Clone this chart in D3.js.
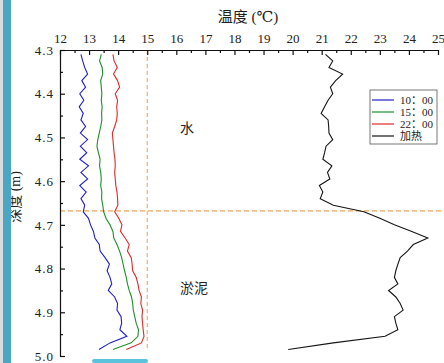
<!DOCTYPE html>
<html>
<head>
  <meta charset="utf-8">
  <style>
    body { margin: 0; background: #fff; }
  </style>
</head>
<body>
<svg id="chart" width="444" height="363"></svg>
<script src="https://d3js.org/d3.v7.min.js"></script>
<script>
// depth (m), shared by every series
var depths = [4.310, 4.325, 4.340, 4.355, 4.370, 4.385, 4.400, 4.415, 4.430, 4.445,
              4.460, 4.475, 4.490, 4.505, 4.520, 4.535, 4.550, 4.565, 4.580, 4.595,
              4.610, 4.625, 4.640, 4.655, 4.670, 4.685, 4.700, 4.715, 4.730, 4.745,
              4.760, 4.775, 4.790, 4.805, 4.820, 4.835, 4.850, 4.865, 4.880, 4.895,
              4.910, 4.925, 4.940, 4.955, 4.970, 4.985];

var t1000 = [12.72, 12.78, 12.85, 12.95, 12.75, 12.88, 12.68, 12.82, 12.66, 12.80,
             12.72, 12.88, 12.70, 12.95, 12.70, 12.92, 12.68, 12.98, 12.72, 12.95,
             12.68, 12.90, 12.72, 12.85, 12.80, 12.98, 13.05, 13.15, 13.20, 13.35,
             13.38, 13.55, 13.70, 13.62, 13.72, 13.78, 13.66, 13.88, 13.98, 13.96,
             14.10, 14.12, 14.06, 14.30, 13.72, 13.34];

var t1500 = [13.42, 13.36, 13.45, 13.47, 13.40, 13.42, 13.44, 13.42, 13.45, 13.43,
             13.44, 13.40, 13.35, 13.30, 13.27, 13.32, 13.38, 13.36, 13.40, 13.42,
             13.40, 13.44, 13.43, 13.47, 13.50, 13.58, 13.72, 13.82, 13.85, 13.96,
             14.05, 14.12, 14.17, 14.22, 14.28, 14.32, 14.38, 14.46, 14.50, 14.52,
             14.57, 14.62, 14.70, 14.68, 14.45, 13.82];

var t2200 = [13.82, 13.86, 13.97, 13.84, 13.98, 14.05, 13.90, 13.98, 13.95, 13.97,
             13.95, 13.88, 13.80, 13.82, 13.84, 13.86, 13.89, 13.90, 13.88, 13.90,
             13.92, 13.96, 13.98, 13.99, 13.88, 14.02, 14.13, 14.08, 14.24, 14.38,
             14.32, 14.45, 14.48, 14.50, 14.62, 14.68, 14.72, 14.80, 14.78, 14.84,
             14.82, 14.84, 14.86, 14.89, 14.80, 14.28];

var tHeat = [21.13, 21.38, 21.25, 21.72, 21.48, 21.30, 21.38, 21.22, 21.10, 20.98,
             21.22, 21.24, 21.25, 21.38, 21.15, 21.10, 21.04, 21.35, 21.20, 21.28,
             20.92, 21.04, 20.95, 21.40, 22.45, 23.00, 23.50, 24.10, 24.65, 24.15,
             23.95, 23.70, 23.62, 23.55, 23.50, 23.62, 23.30, 23.55, 23.70, 23.80,
             23.50, 23.55, 23.62, 23.18, 21.40, 19.85];

var seriesNames = ["10：00", "15：00", "22：00", "加热"];
var seriesColors = ["#2020c8", "#1f8f2a", "#e02828", "#151515"];
var seriesTemps = [t1000, t1500, t2200, tHeat];

var xTicks = [12, 13, 14, 15, 16, 17, 18, 19, 20, 21, 22, 23, 24, 25];
var yTicks = [4.3, 4.4, 4.5, 4.6, 4.7, 4.8, 4.9, 5.0];
var refTemp = 15;        // vertical dashed line
var refDepth = 4.668;    // water / sediment boundary

var font = "'Liberation Serif', 'DejaVu Serif', 'Noto Sans CJK SC', serif";

var svg = d3.select("#chart");

var x = d3.scaleLinear().domain([12, 25]).range([60, 438]);
var y = d3.scaleLinear().domain([4.3, 5.0]).range([50, 356]);

// left decoration strip
svg.append("rect").attr("x", 0).attr("y", 0).attr("width", 3).attr("height", 363).style("fill", "#d9dde0");

// axis titles
svg.append("text")
    .attr("x", 248).attr("y", 22)
    .style("text-anchor", "middle")
    .style("font-family", font).style("fill", "#222")
    .style("font-size", "15px")
    .text("温度 (℃)");

svg.append("text")
    .attr("transform", "translate(20,197) rotate(-90)")
    .style("text-anchor", "middle")
    .style("font-family", font).style("fill", "#222")
    .style("font-size", "14px")
    .text("深度 (m)");

svg.append("rect").attr("x", 3).attr("y", 0).attr("width", 8).attr("height", 363).style("fill", "#4aa6c2");

// reference lines
svg.append("line")
    .attr("x1", x(refTemp)).attr("x2", x(refTemp))
    .attr("y1", y(4.3)).attr("y2", y(4.985))
    .style("stroke", "#f0a055").style("stroke-width", 1).style("stroke-dasharray", "4,3");

svg.append("line")
    .attr("x1", x(12)).attr("x2", 442)
    .attr("y1", y(refDepth)).attr("y2", y(refDepth))
    .style("stroke", "#f0a055").style("stroke-width", 1.2).style("stroke-dasharray", "5,3");

// axes
var xAxis = d3.axisTop(x).tickValues(xTicks).tickSize(-5).tickSizeOuter(0).tickPadding(7)
    .tickFormat(d3.format("d"));
var xMinor = d3.axisTop(x).tickValues(d3.range(12.5, 25, 1)).tickSize(-3).tickFormat("");

var gx = svg.append("g").attr("transform", "translate(0," + y(4.3) + ")").call(xAxis);
gx.selectAll("text").style("font-size", "13px").style("font-family", font).style("fill", "#222");
svg.append("g").attr("transform", "translate(0," + y(4.3) + ")").call(xMinor)
  .select(".domain").remove();

var yAxis = d3.axisLeft(y).tickValues(yTicks).tickSize(-5).tickSizeOuter(0).tickPadding(6)
    .tickFormat(d3.format(".1f"));
var yMinor = d3.axisLeft(y).tickValues([4.35, 4.45, 4.55, 4.65, 4.75, 4.85, 4.95]).tickSize(-3).tickFormat("");

var gy = svg.append("g").attr("transform", "translate(" + x(12) + ",0)").call(yAxis);
gy.selectAll("text").style("font-size", "13px").style("letter-spacing", "1px")
  .style("font-family", font).style("fill", "#222");
svg.append("g").attr("transform", "translate(" + x(12) + ",0)").call(yMinor)
  .select(".domain").remove();

svg.selectAll(".domain, .tick line").style("stroke", "#111").style("stroke-width", 1.2);

// curves
var line = d3.line()
    .x(function(d) { return x(d.t); })
    .y(function(d) { return y(d.d); });

seriesTemps.forEach(function(temps, i) {
  var pts = depths.map(function(d, j) { return {d: d, t: temps[j]}; });
  svg.append("path")
      .datum(pts)
      .attr("d", line)
      .style("fill", "none")
      .style("stroke", seriesColors[i])
      .style("stroke-width", 1.1);
});

// region labels
svg.append("text").attr("x", 187).attr("y", 133).style("text-anchor", "middle")
    .style("font-family", font).style("fill", "#222")
    .style("font-size", "14px").text("水");
svg.append("text").attr("x", 194).attr("y", 293).style("text-anchor", "middle")
    .style("font-family", font).style("fill", "#222")
    .style("font-size", "14px").text("淤泥");

// legend
var legend = svg.append("g").attr("transform", "translate(370,90)");
legend.append("rect")
    .attr("width", 67).attr("height", 54)
    .style("fill", "#fff").style("stroke", "#555").style("stroke-width", 0.8);

var items = legend.selectAll(".item")
    .data(seriesNames)
    .enter()
    .append("g")
      .attr("class", "item")
      .attr("transform", function(d, i) { return "translate(0," + (10 + i * 12) + ")"; });

items.append("line")
    .attr("x1", 2).attr("x2", 24)
    .style("stroke", function(d, i) { return seriesColors[i]; })
    .style("stroke-width", 1.2);

items.append("text")
    .attr("x", 30).attr("dy", "0.35em")
    .style("font-family", font).style("fill", "#222")
    .style("font-size", "11px")
    .text(function(d) { return d; });

// bottom glow
svg.append("rect").attr("x", 92).attr("y", 359).attr("width", 56).attr("height", 4)
    .attr("rx", 2).style("fill", "#5cc3dc");
</script>
</body>
</html>
